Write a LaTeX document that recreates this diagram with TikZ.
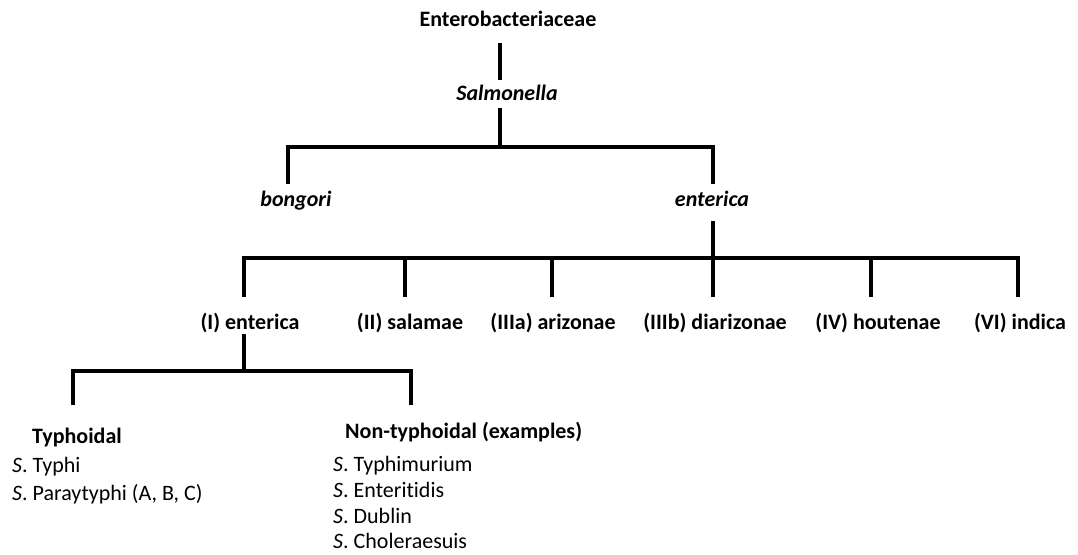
\documentclass[tikz,border=0pt]{standalone}
\usepackage{fontspec}
\setmainfont[Ligatures=NoCommon]{Carlito}
\begin{document}
\begin{tikzpicture}[x=1pt,y=-1pt,
  txt/.style={inner sep=0pt, text height=15pt, text depth=5pt, anchor=base,
    font=\fontsize{22}{26}\selectfont},
  bt/.style={txt, font=\fontsize{22}{26}\selectfont\bfseries},
  bit/.style={txt, font=\fontsize{22}{26}\selectfont\bfseries\itshape},
  lt/.style={txt, anchor=base west},
  lbt/.style={bt, anchor=base west},
  ln/.style={line width=4pt, line join=miter}]
\useasboundingbox (0,0) rectangle (1078,554);
% text nodes
\node[bt]  (ebac) at (508,27) {Enterobacteriaceae};
\node[bit] (sal)  at (507,100) {Salmonella};
\node[bit] (bong) at (296,206) {bongori};
\node[bit] (ent)  at (712,206) {enterica};
\node[bt] (l1) at (250,329) {(I) enterica};
\node[bt] (l2) at (410,329) {(II) salamae};
\node[bt] (l3) at (553,329) {(IIIa) arizonae};
\node[bt] (l4) at (715,329) {(IIIb) diarizonae};
\node[bt] (l5) at (878,329) {(IV) houtenae};
\node[bt] (l6) at (1020,329) {(VI) indica};
\node[lbt] (typh) at (32,443) {Typhoidal};
\node[lt] (t1) at (12,472) {\textit{S}. Typhi};
\node[lt] (t2) at (12,500) {\textit{S}. Paraytyphi (A, B, C)};
\node[lbt] (ntyph) at (345,438) {Non-typhoidal (examples)};
\node[lt] (n1) at (333,471) {\textit{S}. Typhimurium};
\node[lt] (n2) at (333,497) {\textit{S}. Enteritidis};
\node[lt] (n3) at (333,523) {\textit{S}. Dublin};
\node[lt] (n4) at (333,548) {\textit{S}. Choleraesuis};
% joints
\coordinate (b1) at (500,147);
\coordinate (b1l) at (288,147);
\coordinate (b1r) at (713,147);
\coordinate (b2) at (713,258);
\coordinate (b2l) at (244,258);
\coordinate (b2r) at (1018,258);
\coordinate (v2) at (405,258);
\coordinate (v3) at (552,258);
\coordinate (v5) at (871,258);
\coordinate (b3) at (244,371);
\coordinate (b3l) at (73,371);
\coordinate (b3r) at (411,371);
% connectors
\draw[ln, shorten <=11pt, shorten >=5pt] (ebac.south -| b1) -- (sal.north -| b1);
\draw[ln, shorten <=3pt] (sal.south -| b1) -- (b1);
\draw[ln, shorten <=7pt, shorten >=7pt] (bong.north -| b1l) |- (b1) -| (ent.north -| b1r);
\draw[ln, shorten <=10pt] (ent.south -| b2) -- (b2);
\draw[ln, shorten <=17pt, shorten >=17pt] (l1.north -| b2l) |- (b2) -| (l6.north -| b2r);
\draw[ln, shorten >=17pt] (v2) -- (l2.north -| v2);
\draw[ln, shorten >=17pt] (v3) -- (l3.north -| v3);
\draw[ln, shorten >=17pt] (b2) -- (l4.north -| b2);
\draw[ln, shorten >=17pt] (v5) -- (l5.north -| v5);
\draw[ln] (l1.south -| b3) -- (b3);
\draw[ln, shorten <=23pt, shorten >=18pt] (typh.north -| b3l) |- (b3) -| (ntyph.north -| b3r);
\end{tikzpicture}
\end{document}
